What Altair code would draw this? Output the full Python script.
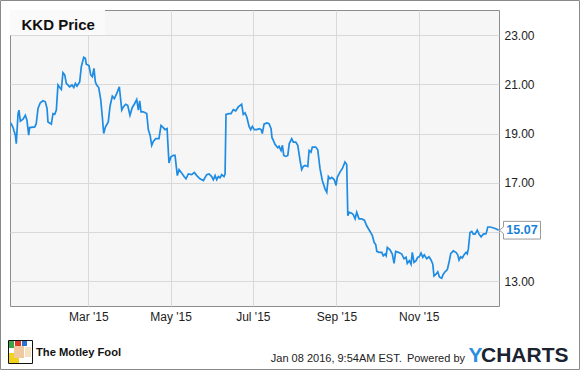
import altair as alt
import pandas as pd

# ---- data (day offset from 2015-01-01, price) ----
days = [1.5, 3.2, 4.9, 5.6, 6.9, 7.6, 8.6, 10.6, 12.3, 13.5, 14.8, 15.5, 19.3, 20.4, 21.7, 23.4,
        25.4, 27.1, 28.4, 29.1, 31.6, 32.8, 34.1, 35.3, 36.5, 37.8, 39.0, 40.2, 41.5, 42.7, 45.2,
        46.9, 48.2, 49.4, 50.6, 52.6, 53.8, 55.6, 56.8, 57.5, 59.5, 60.8, 62.0, 63.2, 64.2, 65.2,
        66.7, 68.2, 69.4, 70.4, 71.6, 73.8, 75.1, 76.8, 78.3, 80.1, 82.0, 83.8, 85.0, 86.7, 88.2,
        89.9, 91.6, 93.1, 94.9, 96.1, 97.1, 98.1, 99.8, 102.3, 103.5, 104.8, 106.0, 107.2, 109.0,
        111.4, 112.9, 114.6, 115.9, 117.4, 118.8, 120.1, 122.0, 123.3, 125.0, 126.3, 128.3, 130.0,
        131.4, 133.2, 135.7, 137.6, 139.4, 141.8, 144.3, 146.8, 148.5, 150.5, 151.7, 153.0, 154.2,
        155.4, 156.7, 157.9, 159.6, 160.4, 161.1, 163.3, 164.8, 166.5, 168.3, 170.2, 172.7, 173.9,
        175.2, 176.5, 178.2, 179.4, 180.6, 182.1, 183.9, 185.8, 187.1, 188.0, 189.3, 191.3, 193.0,
        194.5, 195.2, 196.2, 197.4, 199.4, 200.4, 201.9, 202.9, 203.9, 205.4, 206.9, 208.0, 209.8,
        211.0, 212.8, 214.3, 216.0, 217.2, 218.4, 219.7, 221.7, 222.7, 224.1, 225.1, 227.6, 229.1,
        230.8, 232.5, 234.5, 235.8, 237.0, 238.2, 239.5, 241.4, 242.7, 243.6, 245.6, 247.3, 249.3,
        250.6, 251.4, 252.5, 254.3, 255.5, 256.8, 258.0, 259.7, 261.7, 263.7, 265.4, 267.9, 269.6,
        270.9, 272.1, 272.9, 274.6, 276.6, 277.7, 279.0, 279.8, 280.7, 282.7, 284.4, 285.7, 286.9,
        288.9, 291.4, 293.1, 294.6, 295.5, 297.0, 298.3, 299.2, 300.5, 302.0, 303.2, 304.4, 305.7,
        307.0, 308.1, 309.9, 311.6, 313.1, 314.4, 315.3, 316.8, 318.1, 319.3, 321.0, 322.2, 323.5,
        325.2, 326.7, 327.7, 329.6, 331.6, 332.9, 333.9, 335.1, 336.3, 337.6, 339.1, 340.0, 340.8,
        342.0, 343.3, 344.5, 345.7, 347.4, 348.7, 350.2, 351.9, 353.9, 355.2, 356.9, 358.9, 360.6,
        362.3, 363.2]
prices = [19.43, 19.24, 18.93, 18.59, 19.81, 19.95, 19.50, 19.58, 19.74, 19.54, 18.93, 19.24, 19.27,
          19.40, 20.02, 20.25, 20.33, 20.29, 20.02, 19.47, 19.38, 19.81, 19.78, 19.95, 20.97, 20.87,
          20.79, 21.47, 21.38, 21.04, 20.90, 20.97, 20.87, 21.04, 20.93, 21.10, 21.71, 22.10, 22.06,
          21.82, 21.76, 21.38, 21.31, 21.65, 21.10, 20.97, 20.87, 20.38, 19.67, 19.00, 19.25, 19.47,
          20.11, 20.52, 20.42, 20.63, 20.90, 19.95, 20.08, 20.19, 20.15, 19.74, 20.06, 20.19, 20.38,
          19.95, 20.33, 19.88, 19.88, 19.81, 19.16, 18.93, 18.52, 18.68, 18.79, 18.79, 19.33, 19.24,
          19.16, 19.20, 17.80, 18.04, 18.11, 18.11, 17.29, 17.53, 17.39, 17.25, 17.16, 17.36, 17.33,
          17.42, 17.29, 17.16, 17.09, 17.33, 17.36, 17.25, 17.12, 17.29, 17.12, 17.25, 17.20, 17.33,
          17.25, 17.36, 19.78, 19.81, 19.81, 19.97, 19.92, 20.08, 20.19, 19.78, 19.84, 19.67, 19.29,
          19.16, 19.29, 19.16, 19.16, 19.20, 19.16, 19.00, 19.38, 19.43, 19.40, 19.20, 18.83, 18.72,
          18.56, 18.42, 18.48, 18.31, 18.52, 18.11, 18.07, 18.11, 18.59, 18.79, 18.65, 18.65, 18.52,
          17.91, 17.53, 17.66, 17.70, 17.66, 18.31, 18.24, 18.45, 18.45, 18.34, 17.57, 17.09, 16.75,
          16.61, 17.25, 17.16, 17.22, 17.12, 16.89, 17.22, 17.43, 17.57, 17.84, 17.74, 15.66, 15.80,
          15.76, 15.70, 15.53, 15.80, 15.53, 15.53, 15.48, 15.25, 15.02, 14.85, 14.58, 14.49, 14.21,
          14.17, 14.17, 14.03, 14.10, 14.03, 14.37, 14.27, 14.10, 13.72, 14.21, 14.17, 14.10, 13.91,
          13.97, 13.72, 13.83, 13.69, 14.17, 13.76, 13.83, 13.97, 13.99, 14.14, 13.97, 14.07, 13.91,
          13.99, 13.86, 13.69, 13.21, 13.28, 13.38, 13.17, 13.12, 13.28, 13.38, 13.47, 13.83, 14.12,
          14.23, 14.17, 14.07, 13.86, 13.99, 13.94, 14.07, 14.17, 14.11, 14.32, 14.98, 15.02, 14.91,
          14.91, 15.07, 14.91, 14.80, 14.91, 14.93, 15.20, 15.20, 15.17, 15.14, 15.10, 15.07]

x_domain_days = [0.94, 363.5]
y_domain = [11.99, 24.02]
y_ticks = [13, 15, 17, 19, 21, 23]
y_hidden_label = 15  # covered by the last-value box in the reference
x_tick_months = [3, 5, 7, 9, 11]
title_text = "KKD Price"
footer_date = "Jan 08 2016, 9:54AM EST."
footer_powered = "Powered by"
brand_fool = "The Motley Fool"
brand_y = "Y"
brand_charts = "CHARTS"

FONT = "Liberation Sans, Arial, sans-serif"
LINE_BLUE = "#1e8ce3"

base_date = pd.Timestamp("2015-01-01")
df = pd.DataFrame({"date": base_date + pd.to_timedelta(days, unit="D"), "price": prices})
last = df.tail(1).copy()
last["label"] = [f"{p:.2f}" for p in last["price"]]


def dt(ts):
    return alt.DateTime(year=ts.year, month=ts.month, date=ts.day, hours=ts.hour, minutes=ts.minute)


x_dom = [dt(base_date + pd.Timedelta(days=d)) for d in x_domain_days]
x_vals = [alt.DateTime(year=2015, month=m, date=1) for m in x_tick_months]

x_enc = alt.X("date:T", title=None,
              scale=alt.Scale(domain=x_dom),
              axis=alt.Axis(values=x_vals, format="%b '%y", labelPadding=5, tickSize=0,
                            ticks=False, domain=False, labelFontSize=12, labelColor="#222",
                            labelFont=FONT, gridColor="#d9d9d9", labelFlush=False))
y_enc = alt.Y("price:Q", title=None,
              scale=alt.Scale(domain=y_domain, nice=False, zero=False),
              axis=alt.Axis(orient="right", values=y_ticks, labelPadding=5,
                            labelExpr=f"datum.value == {y_hidden_label} ? '' : format(datum.value, '.2f')",
                            tickSize=0, ticks=False, domain=False, labelFontSize=12,
                            labelColor="#222", labelFont=FONT, gridColor="#d9d9d9"))

line = alt.Chart(df).mark_line(color=LINE_BLUE, strokeWidth=1.7).encode(x=x_enc, y=y_enc)

box_path = "M-1,-0.478L1,-0.478L1,0.478L-1,0.478L-1,0.18L-1.22,0L-1,-0.18Z"
last_box = alt.Chart(last).mark_point(shape=box_path, size=1369, filled=True, fill="white",
                                      stroke="#9a9a9a", strokeWidth=1, opacity=1).encode(
    x=alt.value(512), y=alt.Y("price:Q"))
last_text = alt.Chart(last).mark_text(font=FONT, fontSize=12.5, fontWeight="bold",
                                      color="#1a7fd6", align="center", baseline="middle").encode(
    x=alt.value(512), y=alt.Y("price:Q"), text="label:N")


def rect(x, x2, y, y2, **kw):
    return alt.Chart(df.head(1)).mark_rect(**kw).encode(
        x=alt.value(x), x2=alt.value(x2), y=alt.value(y), y2=alt.value(y2))


def text(s, x, y, **kw):
    base = dict(font=FONT, baseline="alphabetic", align="left")
    base.update(kw)
    return alt.Chart(df.head(1)).mark_text(text=s, **base).encode(x=alt.value(x), y=alt.value(y))


title_box = rect(0, 95, 0, 25, fill="#fafafa")
title = text(title_text, 11.5, 19.5, fontSize=15, fontWeight="bold", color="#111")

# Motley Fool logo (simplified jester)
logo = [
    rect(-1.5, 22.5, 330.5, 353.5, fill="white", stroke="#111", strokeWidth=1),
    rect(-1, 9, 343, 353, fill="#f2d21b"),
    rect(4, 14, 336, 348, fill="#f0c9a0"),
    rect(-1, 4, 331, 338, fill="#3aa34a"),
    rect(5, 11, 331, 336, fill="#d93a2b"),
    rect(12, 17, 331, 336, fill="#2f6fd0"),
    rect(15, 21, 337, 347, fill="#f7e0c0"),
]
fool = text(brand_fool, 26, 345.5, fontSize=11.2, fontWeight="bold", color="#111")
date_t = text(footer_date, 391.7, 351.5, fontSize=11, color="#222", align="right")
powered = text(footer_powered, 455, 351.5, fontSize=11, color="#222", align="right")
ych_y = text(brand_y, 458.5, 351.7, fontSize=21, fontWeight=900, color="#2b8ee0")
ych_c = text(brand_charts, 471, 351.7, fontSize=21, fontWeight=900, color="#1b2330")

outer = rect(-9.5, 569.5, -9.5, 359.5, fill="white", fillOpacity=0, stroke="#8a8a8a",
             strokeWidth=1)

chart = alt.layer(
    line, title_box, title, last_box, last_text, *logo, fool, date_t, powered, ych_y, ych_c, outer
).properties(
    width=489, height=296, autosize="none",
    padding={"left": 10, "top": 10, "right": 81, "bottom": 65},
    background="white",
).configure_view(
    stroke="#8c8c8c", fill="#f6f6f6", strokeWidth=1
)

chart.save("out.html", embed_options={"renderer": "svg", "actions": False})
